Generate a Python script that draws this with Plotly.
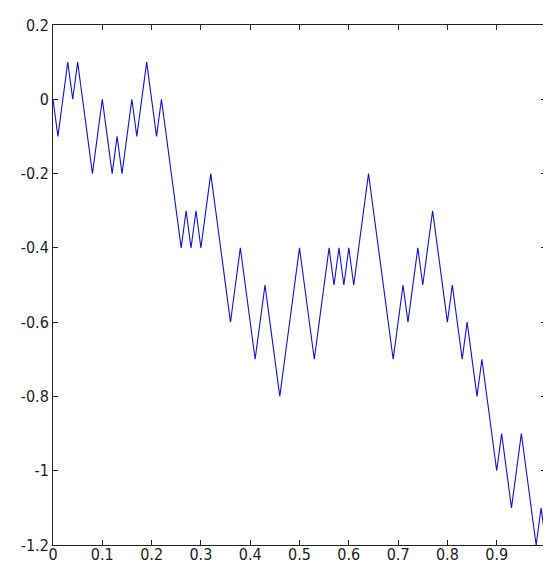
import plotly.graph_objects as go

# Sample times (0 to 1, step 0.01)
x_vals = [round(i * 0.01, 2) for i in range(101)]

# Random-walk values (steps of 0.1)
y_vals = [
    0.0, -0.1, 0.0, 0.1, 0.0, 0.1, 0.0, -0.1, -0.2, -0.1,
    0.0, -0.1, -0.2, -0.1, -0.2, -0.1, 0.0, -0.1, 0.0, 0.1,
    0.0, -0.1, 0.0, -0.1, -0.2, -0.3, -0.4, -0.3, -0.4, -0.3,
    -0.4, -0.3, -0.2, -0.3, -0.4, -0.5, -0.6, -0.5, -0.4, -0.5,
    -0.6, -0.7, -0.6, -0.5, -0.6, -0.7, -0.8, -0.7, -0.6, -0.5,
    -0.4, -0.5, -0.6, -0.7, -0.6, -0.5, -0.4, -0.5, -0.4, -0.5,
    -0.4, -0.5, -0.4, -0.3, -0.2, -0.3, -0.4, -0.5, -0.6, -0.7,
    -0.6, -0.5, -0.6, -0.5, -0.4, -0.5, -0.4, -0.3, -0.4, -0.5,
    -0.6, -0.5, -0.6, -0.7, -0.6, -0.7, -0.8, -0.7, -0.8, -0.9,
    -1.0, -0.9, -1.0, -1.1, -1.0, -0.9, -1.0, -1.1, -1.2, -1.1,
    -1.2,
]

x_ticks = [0, 0.1, 0.2, 0.3, 0.4, 0.5, 0.6, 0.7, 0.8, 0.9, 1]
x_tick_labels = ["0", "0.1", "0.2", "0.3", "0.4", "0.5", "0.6", "0.7", "0.8", "0.9", "1"]
y_ticks = [0.2, 0, -0.2, -0.4, -0.6, -0.8, -1, -1.2]
y_tick_labels = ["0.2", "0", "-0.2", "-0.4", "-0.6", "-0.8", "-1", "-1.2"]

fig = go.Figure()
fig.add_trace(go.Scatter(
    x=x_vals, y=y_vals, mode="lines",
    line=dict(color="#1010e0", width=1.1),
    showlegend=False, hoverinfo="skip",
))

axis_common = dict(
    showline=True, linecolor="#222222", linewidth=1, mirror="ticks",
    ticks="inside", ticklen=5, tickcolor="#222222", tickwidth=1,
    showgrid=False, zeroline=False,
    ticklabeloverflow="allow",
    tickfont=dict(family="Liberation Sans Narrow, DejaVu Sans Condensed, Arial Narrow, sans-serif",
                  size=16, color="#222222"),
)

fig.update_xaxes(range=[0, 1], tickvals=x_ticks, ticktext=x_tick_labels,
                 ticklabelstandoff=-5, **axis_common)
fig.update_yaxes(range=[-1.2, 0.2], tickvals=y_ticks, ticktext=y_tick_labels,
                 ticklabelstandoff=0, **axis_common)

fig.update_layout(
    width=551, height=568,
    margin=dict(l=45, r=8, t=13, b=31),
    paper_bgcolor="white", plot_bgcolor="white",
)

fig.write_html("out.html")
